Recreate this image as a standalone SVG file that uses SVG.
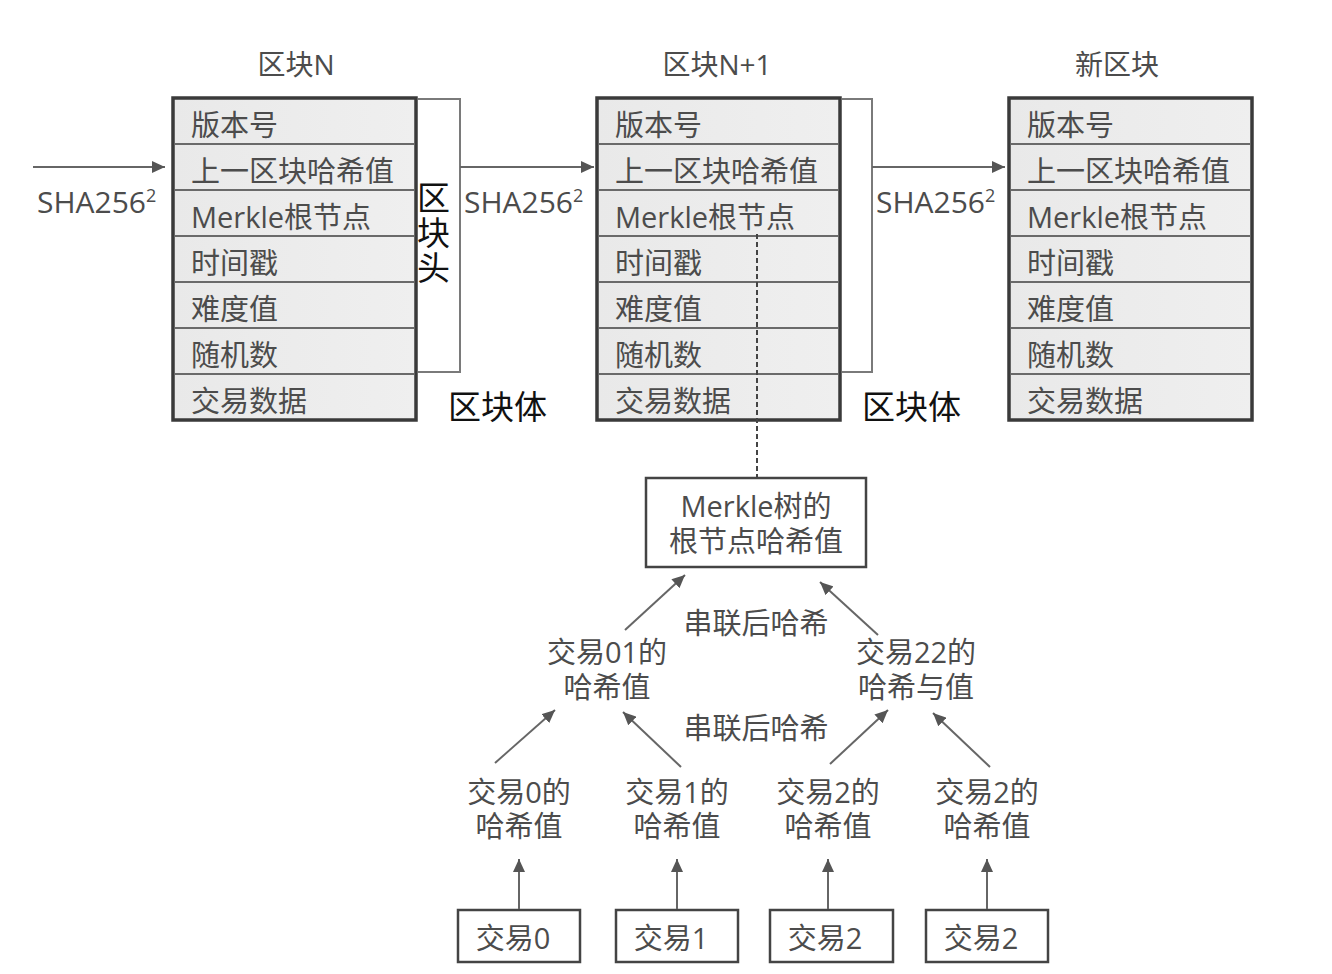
<svg xmlns="http://www.w3.org/2000/svg" width="1332" height="974" viewBox="0 0 1332 974">
  <style>
    text { font-family: "Open Sans", "Noto Sans CJK SC", sans-serif; fill: #4c4c4c; }
    .t { font-size: 28px; text-anchor: middle; dominant-baseline: central; }
    .row { font-size: 29px; dominant-baseline: central; }
    .lbl { font-size: 29px; text-anchor: middle; dominant-baseline: central; }
    .big { font-size: 33px; fill: #111; dominant-baseline: central; }
    .vert { font-size: 33px; fill: #111; writing-mode: vertical-rl; letter-spacing: 2px; }
    .sha { font-size: 30px; }
    .sup { font-size: 18px; }
    .blk { fill: url(#rowfill); stroke: #3a3a3a; stroke-width: 3.5; }
    .div { stroke: #6a6a6a; stroke-width: 2; }
    .box { fill: #fff; stroke: #444; stroke-width: 2.5; }
    .brk { fill: none; stroke: #7a7a7a; stroke-width: 2; }
    .arr { fill: none; stroke: #666; stroke-width: 2; marker-end: url(#head); }
    .dash { stroke: #444; stroke-width: 2; stroke-dasharray: 5 3; }
  </style>
  <defs>
    <linearGradient id="rowfill" x1="0" y1="0" x2="1" y2="0">
      <stop offset="0" stop-color="#e9e9e9"/>
      <stop offset="1" stop-color="#efefef"/>
    </linearGradient>
    <marker id="head" markerUnits="userSpaceOnUse" markerWidth="14" markerHeight="12" refX="13" refY="6" orient="auto">
      <path d="M0,0 L13,6 L0,12 Z" fill="#555"/>
    </marker>
    <!-- one block: outer frame plus seven field rows -->
    <g id="block">
      <rect class="blk" x="0" y="0" width="243" height="322"/>
      <line class="div" x1="2" y1="46" x2="241" y2="46"/>
      <line class="div" x1="2" y1="92" x2="241" y2="92"/>
      <line class="div" x1="2" y1="138" x2="241" y2="138"/>
      <line class="div" x1="2" y1="184" x2="241" y2="184"/>
      <line class="div" x1="2" y1="230" x2="241" y2="230"/>
      <line class="div" x1="2" y1="276" x2="241" y2="276"/>
      <text class="row" x="18" y="26">版本号</text>
      <text class="row" x="18" y="72">上一区块哈希值</text>
      <text class="row" x="18" y="118">Merkle根节点</text>
      <text class="row" x="18" y="164">时间戳</text>
      <text class="row" x="18" y="210">难度值</text>
      <text class="row" x="18" y="256">随机数</text>
      <text class="row" x="18" y="302">交易数据</text>
    </g>
  </defs>

  <rect width="1332" height="974" fill="#fff"/>

  <!-- block chain row -->
  <g id="block-n">
    <text class="t" x="296" y="64">区块N</text>
    <use href="#block" x="173" y="98"/>
  </g>
  <g id="block-n1">
    <text class="t" x="717" y="64">区块N+1</text>
    <use href="#block" x="597" y="98"/>
  </g>
  <g id="block-new">
    <text class="t" x="1117" y="64">新区块</text>
    <use href="#block" x="1009" y="98"/>
  </g>

  <!-- header / body brackets -->
  <g id="header-bracket-n">
    <polyline class="brk" points="418,99 460,99 460,372 418,372"/>
    <text class="vert" x="432" y="181">区块头</text>
  </g>
  <g id="header-bracket-n1">
    <polyline class="brk" points="842,99 872,99 872,372 842,372"/>
  </g>
  <g id="body-label-n">
    <text class="big" x="448" y="406">区块体</text>
  </g>
  <g id="body-label-n1">
    <text class="big" x="862" y="406">区块体</text>
  </g>

  <!-- hash labels on links -->
  <g id="sha-1"><text class="sha" x="37" y="213">SHA256<tspan class="sup" dy="-11">2</tspan></text></g>
  <g id="sha-2"><text class="sha" x="464" y="213">SHA256<tspan class="sup" dy="-11">2</tspan></text></g>
  <g id="sha-3"><text class="sha" x="876" y="213">SHA256<tspan class="sup" dy="-11">2</tspan></text></g>

  <!-- Merkle tree -->
  <g id="merkle-root">
    <rect class="box" x="646" y="478" width="220" height="89"/>
    <text class="lbl" x="756" y="505">Merkle树的<tspan x="756" dy="35">根节点哈希值</tspan></text>
  </g>
  <g id="concat-hash-top"><text class="lbl" x="756" y="622">串联后哈希</text></g>
  <g id="concat-hash-bottom"><text class="lbl" x="756" y="727">串联后哈希</text></g>
  <g id="hash-01">
    <text class="lbl" x="607" y="651">交易01的<tspan x="607" dy="35">哈希值</tspan></text>
  </g>
  <g id="hash-22">
    <text class="lbl" x="916" y="651">交易22的<tspan x="916" dy="35">哈希与值</tspan></text>
  </g>
  <g id="hash-0">
    <text class="lbl" x="519" y="791">交易0的<tspan x="519" dy="34">哈希值</tspan></text>
  </g>
  <g id="hash-1">
    <text class="lbl" x="677" y="791">交易1的<tspan x="677" dy="34">哈希值</tspan></text>
  </g>
  <g id="hash-2a">
    <text class="lbl" x="828" y="791">交易2的<tspan x="828" dy="34">哈希值</tspan></text>
  </g>
  <g id="hash-2b">
    <text class="lbl" x="987" y="791">交易2的<tspan x="987" dy="34">哈希值</tspan></text>
  </g>
  <g id="tx-0">
    <rect class="box" x="458" y="910" width="122" height="52"/>
    <text class="lbl" x="513" y="937">交易0</text>
  </g>
  <g id="tx-1">
    <rect class="box" x="616" y="910" width="122" height="52"/>
    <text class="lbl" x="671" y="937">交易1</text>
  </g>
  <g id="tx-2a">
    <rect class="box" x="770" y="910" width="123" height="52"/>
    <text class="lbl" x="825" y="937">交易2</text>
  </g>
  <g id="tx-2b">
    <rect class="box" x="926" y="910" width="122" height="52"/>
    <text class="lbl" x="981" y="937">交易2</text>
  </g>

  <!-- connectors -->
  <g id="connectors">
    <line class="arr" x1="33" y1="167" x2="165" y2="167"/>
    <line class="arr" x1="460" y1="167" x2="594" y2="167"/>
    <line class="arr" x1="872" y1="167" x2="1005" y2="167"/>
    <line class="dash" x1="757" y1="234" x2="757" y2="477"/>
    <line class="arr" x1="625" y1="630" x2="685" y2="575"/>
    <line class="arr" x1="878" y1="635" x2="820" y2="582"/>
    <line class="arr" x1="495" y1="763" x2="555" y2="710"/>
    <line class="arr" x1="681" y1="767" x2="623" y2="712"/>
    <line class="arr" x1="830" y1="764" x2="888" y2="710"/>
    <line class="arr" x1="990" y1="767" x2="933" y2="713"/>
    <line class="arr" x1="519" y1="909" x2="519" y2="859"/>
    <line class="arr" x1="677" y1="909" x2="677" y2="859"/>
    <line class="arr" x1="828" y1="909" x2="828" y2="859"/>
    <line class="arr" x1="987" y1="909" x2="987" y2="859"/>
  </g>
</svg>
